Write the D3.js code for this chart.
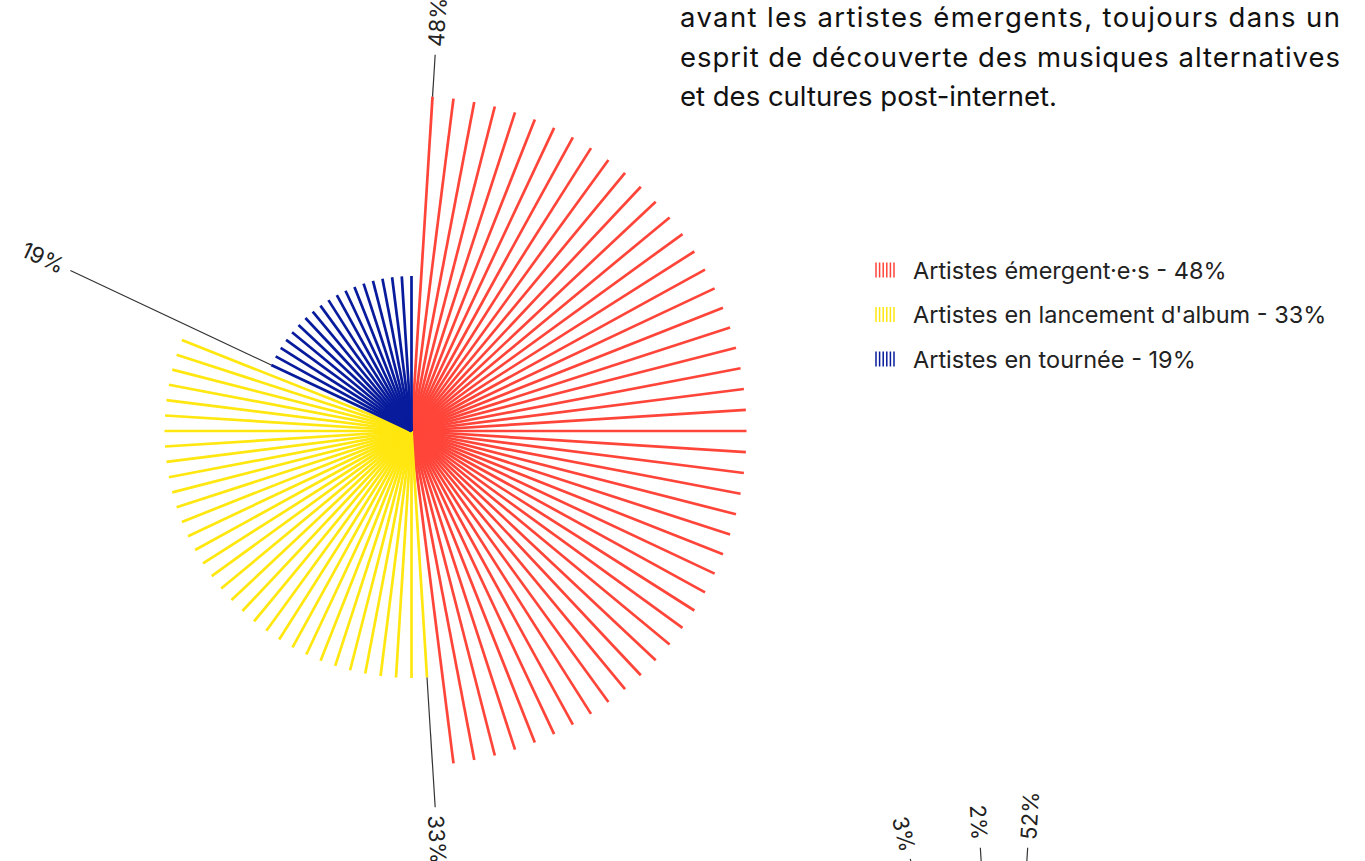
<!DOCTYPE html>
<html>
<head>
<meta charset="utf-8">
<script src="https://cdn.jsdelivr.net/npm/d3@7"></script>
<style>
  body { margin: 0; background: #fff; overflow: hidden; }
  svg { display: block; }
</style>
</head>
<body>
<div id="chart-area"></div>
<script>
// Data
let categories = ["Artistes émergent·e·s", "Artistes en lancement d'album", "Artistes en tournée"];
let shares = [48, 33, 19];
let colors = ["#ff4539", "#ffe70f", "#071b9c"];

// second chart, only its labels reach into the page bottom
let shares2 = [52, 43, 3, 2];
let visibleLabels2 = [true, false, true, true];

let paragraph = [
  "avant les artistes émergents, toujours dans un",
  "esprit de découverte des musiques alternatives",
  "et des cultures post-internet."
];

// SVG container
let width = 1365, height = 861;

let svg = d3
  .select("#chart-area")
  .append("svg")
  .attr("width", width)
  .attr("height", height);

// Scales
let angle = d3.scaleLinear().domain([0, 100]).range([0, 2 * Math.PI]);
let leaderR = 377, labelR = 385;

function drawRadial(values, center, radius, color, showLabel) {
  let g = svg.append("g")
    .attr("transform", "translate(" + center[0] + "," + center[1] + ")");

  // one ray per percent
  let rays = [];
  let starts = [];
  let acc = 0;
  values.forEach((v, i) => {
    starts.push(acc + 1);
    for (let k = 1; k <= v; k++) rays.push({ cat: i, idx: acc + k, value: v });
    acc += v;
  });

  g.selectAll("line.ray")
    .data(rays)
    .enter()
    .append("line")
    .attr("class", "ray")
    .attr("x1", 0)
    .attr("y1", 0)
    .attr("x2", d => radius(d.value) * Math.sin(angle(d.idx)))
    .attr("y2", d => -radius(d.value) * Math.cos(angle(d.idx)))
    .attr("stroke", d => color(d.cat))
    .attr("stroke-width", 2.7);

  let labels = values.map((v, i) => ({ value: v, idx: starts[i], i: i }))
    .filter(d => showLabel[d.i]);

  g.selectAll("line.leader")
    .data(labels)
    .enter()
    .append("line")
    .attr("class", "leader")
    .attr("x1", d => radius(d.value) * Math.sin(angle(d.idx)))
    .attr("y1", d => -radius(d.value) * Math.cos(angle(d.idx)))
    .attr("x2", d => leaderR * Math.sin(angle(d.idx)))
    .attr("y2", d => -leaderR * Math.cos(angle(d.idx)))
    .attr("stroke", "#333")
    .attr("stroke-width", 1.2);

  g.selectAll("text.pct")
    .data(labels)
    .enter()
    .append("text")
    .attr("class", "pct")
    .attr("transform", d => {
      let a = angle(d.idx);
      let deg = a * 180 / Math.PI;
      let flip = deg > 180;
      return "translate(" + labelR * Math.sin(a) + "," + (-labelR * Math.cos(a)) + ")" +
        " rotate(" + (flip ? deg - 270 : deg - 90) + ")";
    })
    .attr("text-anchor", d => angle(d.idx) > Math.PI ? "end" : "start")
    .attr("dominant-baseline", "central")
    .style("font-family", "Inter, sans-serif")
    .style("font-size", "22px")
    .style("fill", "#222")
    .text(d => d.value + "%");
}

let color1 = d3.scaleOrdinal().domain([0, 1, 2]).range(colors);
let radius1 = d3.scalePow().exponent(0.75).domain(d3.extent(shares)).range([155, 335]);
drawRadial(shares, [411.5, 431], radius1, color1, shares.map(() => true));

let color2 = d3.scaleOrdinal().domain([0, 1, 2, 3]).range(["#ff4539", "#ffe70f", "#071b9c", "#ff4539"]);
let radius2 = d3.scalePow().exponent(0.75).domain(d3.extent(shares2)).range([155, 335]);
drawRadial(shares2, [1004, 1224], radius2, color2, visibleLabels2);

// Paragraph text (justified lines)
svg.selectAll("text.para")
  .data(paragraph)
  .enter()
  .append("text")
  .attr("class", "para")
  .attr("x", 680)
  .attr("y", (d, i) => 27 + i * 39.5)
  .attr("textLength", (d, i) => i < 2 ? 660 : null)
  .attr("lengthAdjust", "spacing")
  .style("font-family", "Inter, sans-serif")
  .style("font-size", "27.5px")
  .style("fill", "#111")
  .text(d => d);

// Legend
let legend = svg.append("g").attr("transform", "translate(875, 270)");
let rows = legend.selectAll("g.row")
  .data(categories)
  .enter()
  .append("g")
  .attr("class", "row")
  .attr("transform", (d, i) => "translate(0," + i * 44.5 + ")");

rows.each(function(d, i) {
  d3.select(this).selectAll("line")
    .data(d3.range(6))
    .enter()
    .append("line")
    .attr("x1", k => 1 + k * 3.6)
    .attr("x2", k => 1 + k * 3.6)
    .attr("y1", -7.5)
    .attr("y2", 7.5)
    .attr("stroke", colors[i])
    .attr("stroke-width", 1.5);
});

rows.append("text")
  .attr("x", 38)
  .attr("y", 0)
  .attr("dominant-baseline", "central")
  .style("font-family", "Inter, sans-serif")
  .style("font-size", "23.5px")
  .style("fill", "#222")
  .text((d, i) => d + " - " + shares[i] + "%");
</script>
</body>
</html>
